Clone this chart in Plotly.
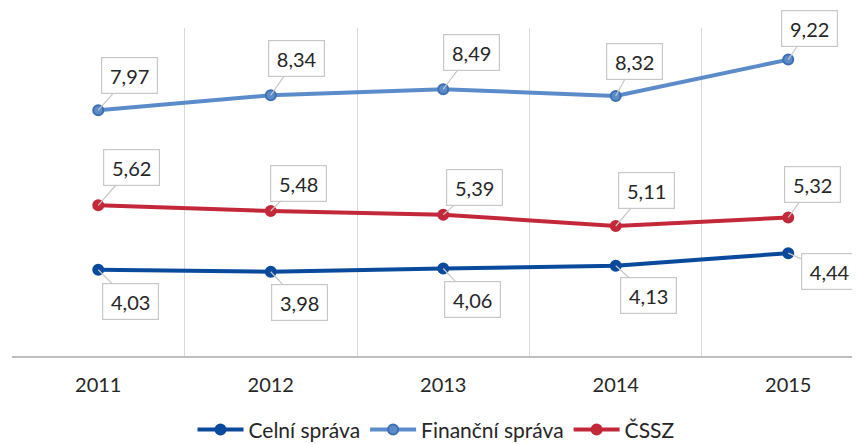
import plotly.graph_objects as go

years = ["2011", "2012", "2013", "2014", "2015"]
celni = [4.03, 3.98, 4.06, 4.13, 4.44]
financni = [7.97, 8.34, 8.49, 8.32, 9.22]
cssz = [5.62, 5.48, 5.39, 5.11, 5.32]

names = ["Celní správa", "Finanční správa", "ČSSZ"]
colors = ["#0A4A9C", "#5B8CC9", "#C3283A"]
mcolors_line = ["#0A4A9C", "#3E6FB3", "#C3283A"]

# label offsets (pixels) for callouts
off_celni = [(32, 32), (29, 31), (29, 31), (33, 30), (41, 18)]
off_fin = [(31, -35), (26, -37), (28, -37), (19, -35), (21, -31)]
off_cssz = [(33, -38), (28, -28), (31, -27), (31, -36), (24, -33)]

FONT = "Lato, 'Open Sans', sans-serif"

fig = go.Figure()
for vals, name, c, mc in zip([celni, financni, cssz], names, colors, mcolors_line):
    fig.add_trace(go.Scatter(
        x=years, y=vals, name=name, mode="lines+markers",
        line=dict(color=c, width=4),
        marker=dict(size=10, color=c, line=dict(color=mc, width=2)),
    ))

annotations = []
for vals, offs in [(celni, off_celni), (financni, off_fin), (cssz, off_cssz)]:
    for i, (yv, (dx, dy)) in enumerate(zip(vals, offs)):
        annotations.append(dict(
            x=i, y=yv, xref="x", yref="y",
            text=f"{yv:.2f}".replace(".", ","),
            showarrow=True, arrowhead=0, arrowwidth=1.2, arrowcolor="#C8C8C8",
            ax=dx, ay=dy, standoff=0,
            bgcolor="white", bordercolor="#C8C8C8", borderwidth=1.2,
            width=53, height=33,
            font=dict(family=FONT, size=20, color="#262626"),
        ))

# page body has an 8px default margin, so the figure is 8px smaller
fig.update_layout(
    width=852, height=436,
    margin=dict(l=4, r=0, t=20, b=88, autoexpand=False),
    paper_bgcolor="white", plot_bgcolor="white",
    font=dict(family=FONT, size=20, color="#262626"),
    showlegend=True,
    legend=dict(orientation="h", x=0.5, xanchor="center", y=-0.225, yanchor="middle",
                font=dict(family=FONT, size=21, color="#262626"),
                itemwidth=46, tracegroupgap=0),
    annotations=annotations,
    xaxis=dict(type="category", range=[-0.5, 4.416], tickson="boundaries",
               showgrid=True, gridcolor="#D9D9D9", gridwidth=1,
               showline=True, linecolor="#BFBFBF", linewidth=1.5,
               ticks="", ticklabelstandoff=10,
               tickfont=dict(family=FONT, size=20, color="#262626")),
    yaxis=dict(range=[1.9, 10.0], showgrid=False, showticklabels=False,
               zeroline=False, showline=False),
)

fig.write_html("out.html")
